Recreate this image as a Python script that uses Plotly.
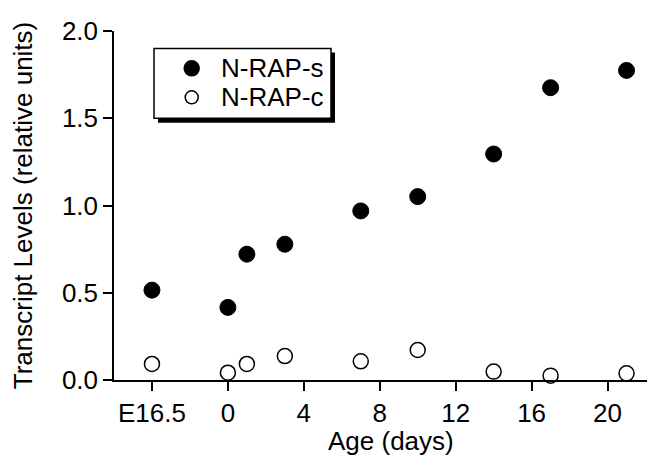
import plotly.graph_objects as go

# Data
age_days = [-4, 0, 1, 3, 7, 10, 14, 17, 21]          # -4 is the plotted position for E16.5
nrap_s = [0.515, 0.416, 0.721, 0.778, 0.969, 1.051, 1.295, 1.675, 1.774]
nrap_c = [0.092, 0.042, 0.092, 0.137, 0.107, 0.172, 0.048, 0.025, 0.038]
series_names = ["N-RAP-s", "N-RAP-c"]
x_tickvals = [-4, 0, 4, 8, 12, 16, 20]
x_ticktext = ["E16.5", "0", "4", "8", "12", "16", "20"]
y_tickvals = [0, 0.5, 1.0, 1.5, 2.0]

FONT = "Liberation Sans, Arial, Helvetica, sans-serif"
FS = 26
OFF = 8  # page body margin offset
W, H = 655 - OFF, 456 - OFF
L, R, T, B = 114 - OFF, 0, 30.6 - OFF, 456 - 380
pw, ph = W - L - R, H - T - B


def px2paper(x, y):
    """screen pixel -> paper coords"""
    fx, fy = x - OFF, y - OFF
    return (fx - L) / pw, (H - B - fy) / ph


fig = go.Figure()
fig.add_trace(go.Scatter(
    x=age_days, y=nrap_s, mode="markers", name=series_names[0],
    marker=dict(symbol="circle", size=16, color="black", line=dict(color="black", width=1)),
    cliponaxis=False, showlegend=False,
))
fig.add_trace(go.Scatter(
    x=age_days, y=nrap_c, mode="markers", name=series_names[1],
    marker=dict(symbol="circle-open", size=15, color="black", line=dict(color="black", width=1.5)),
    cliponaxis=False, showlegend=False,
))

# manual legend box with drop shadow
sx0, sy0 = px2paper(158, 122.5)
sx1, sy1 = px2paper(335, 52)
fig.add_shape(type="rect", xref="paper", yref="paper", x0=sx0, y0=sy0, x1=sx1, y1=sy1,
              fillcolor="black", line=dict(width=0), layer="above")
bx0, by0 = px2paper(154, 118)
bx1, by1 = px2paper(331, 48)
fig.add_shape(type="rect", xref="paper", yref="paper", x0=bx0, y0=by0, x1=bx1, y1=by1,
              fillcolor="white", line=dict(color="black", width=1.5), layer="above")
# legend keys
for (ky, filled, d) in [(68, True, 15), (97, False, 13)]:
    kx, kyp = px2paper(191.7, ky)
    fig.add_shape(type="circle", xref="paper", yref="paper",
                  xsizemode="pixel", ysizemode="pixel", xanchor=kx, yanchor=kyp,
                  x0=-d / 2, x1=d / 2, y0=-d / 2, y1=d / 2,
                  fillcolor="black" if filled else "white",
                  line=dict(color="black", width=1.5), layer="above")
for name, ty in zip(series_names, [68, 97]):
    tx, typ = px2paper(219, ty)
    fig.add_annotation(text=name, xref="paper", yref="paper", x=tx, y=typ,
                       showarrow=False, xanchor="left", yanchor="middle",
                       font=dict(size=FS, color="black", family=FONT))

ax, ay = px2paper(391, 441)
fig.add_annotation(text="Age (days)", xref="paper", yref="paper", x=ax, y=ay,
                   showarrow=False, font=dict(size=FS, color="black", family=FONT),
                   xanchor="center", yanchor="middle")

fig.update_layout(
    width=W, height=H,
    margin=dict(l=L, r=R, t=T, b=B, pad=0),
    paper_bgcolor="white", plot_bgcolor="white",
    font=dict(family=FONT, size=FS, color="black"),
    showlegend=False,
    xaxis=dict(range=[-6, 22.5], tickvals=x_tickvals, ticktext=x_ticktext,
               showline=True, linecolor="black", linewidth=1.5,
               ticks="outside", ticklen=9, tickwidth=1.5, tickcolor="black",
               showgrid=False, zeroline=False, tickfont=dict(size=FS)),
    yaxis=dict(range=[0, 2.0], tickvals=y_tickvals, tickformat=".1f",
               showline=True, linecolor="black", linewidth=1.5,
               ticks="outside", ticklen=9, tickwidth=1.5, tickcolor="black",
               showgrid=False, zeroline=False, tickfont=dict(size=FS),
               title=dict(text="Transcript Levels (relative units)", font=dict(size=FS), standoff=25)),
)

fig.write_html("out.html")
